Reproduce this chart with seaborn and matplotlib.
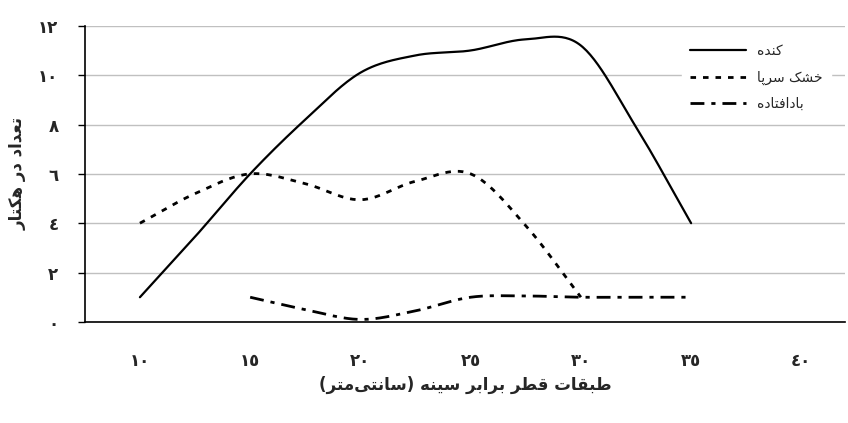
import matplotlib
matplotlib.use("Agg")
import matplotlib.pyplot as plt
import numpy as np
import pandas as pd
import seaborn as sns

# === DATA ===
konde_x = [10, 12.5, 15, 17.5, 20, 22.5, 25, 27.5, 30, 32.5, 35]
konde = [1, 3.45, 6.0, 8.2, 10.1, 10.8, 11.0, 11.45, 11.2, 7.9, 4]
khoshk_x = [10, 12.5, 15, 17.5, 20, 22.5, 25, 27.5, 30]
khoshk = [4, 5.2, 6, 5.6, 4.95, 5.7, 6.0, 3.9, 1]
badaftade_x = [15, 17.5, 20, 22.5, 25, 27.5, 30, 32.5, 35]
badaftade = [1, 0.5, 0.1, 0.45, 1.0, 1.05, 1, 1, 1]

x_tick_vals = [10, 15, 20, 25, 30, 35, 40]
y_tick_vals = [0, 2, 4, 6, 8, 10, 12]

# === Persian shaping (matplotlib has no Arabic shaping) ===
FORMS = {
    'ا': (0xFE8D, 0xFE8E, None, None), 'د': (0xFEA9, 0xFEAA, None, None),
    'ر': (0xFEAD, 0xFEAE, None, None),
    'ب': (0xFE8F, 0xFE90, 0xFE91, 0xFE92), 'ت': (0xFE95, 0xFE96, 0xFE97, 0xFE98),
    'خ': (0xFEA5, 0xFEA6, 0xFEA7, 0xFEA8), 'س': (0xFEB1, 0xFEB2, 0xFEB3, 0xFEB4),
    'ش': (0xFEB5, 0xFEB6, 0xFEB7, 0xFEB8), 'ط': (0xFEC1, 0xFEC2, 0xFEC3, 0xFEC4),
    'ع': (0xFEC9, 0xFECA, 0xFECB, 0xFECC), 'ف': (0xFED1, 0xFED2, 0xFED3, 0xFED4),
    'ق': (0xFED5, 0xFED6, 0xFED7, 0xFED8), 'م': (0xFEE1, 0xFEE2, 0xFEE3, 0xFEE4),
    'ن': (0xFEE5, 0xFEE6, 0xFEE7, 0xFEE8), 'ه': (0xFEE9, 0xFEEA, 0xFEEB, 0xFEEC),
    'پ': (0xFB56, 0xFB57, 0xFB58, 0xFB59), 'ک': (0xFB8E, 0xFB8F, 0xFB90, 0xFB91),
    'ی': (0xFBFC, 0xFBFD, 0xFBFE, 0xFBFF),
}
MIRROR = {'(': ')', ')': '('}


def fa(text):
    out = []
    n = len(text)
    for i, ch in enumerate(text):
        if ch not in FORMS:
            if ch != '\u200c':
                out.append(MIRROR.get(ch, ch))
            continue
        prev = text[i - 1] if i > 0 else ''
        nxt = text[i + 1] if i + 1 < n else ''
        join_prev = prev in FORMS and FORMS[prev][2] is not None
        join_next = nxt in FORMS and FORMS[ch][2] is not None
        iso, fin, ini, med = FORMS[ch]
        if join_prev and join_next:
            code = med
        elif join_prev:
            code = fin
        elif join_next:
            code = ini
        else:
            code = iso
        out.append(chr(code))
    return ''.join(reversed(out))


def ar_digits(v):
    return ''.join(chr(0x0660 + int(d)) for d in str(v))


def smooth(xs, ys, n=30):
    # Catmull-Rom spline through the points (like Excel smoothed lines)
    xs = np.asarray(xs, float); ys = np.asarray(ys, float)
    px = np.concatenate([[2 * xs[0] - xs[1]], xs, [2 * xs[-1] - xs[-2]]])
    py = np.concatenate([[2 * ys[0] - ys[1]], ys, [2 * ys[-1] - ys[-2]]])
    ox, oy = [], []
    t = np.linspace(0, 1, n)
    for i in range(1, len(px) - 2):
        for p, o in ((px, ox), (py, oy)):
            p0, p1, p2, p3 = p[i - 1], p[i], p[i + 1], p[i + 2]
            m1 = (p2 - p0) / 2
            m2 = (p3 - p1) / 2
            h = ((2 * t**3 - 3 * t**2 + 1) * p1 + (t**3 - 2 * t**2 + t) * m1
                 + (-2 * t**3 + 3 * t**2) * p2 + (t**3 - t**2) * m2)
            o.extend(h)
    return np.array(ox), np.array(oy)


sns.set_style("white")
plt.rcParams['font.family'] = ['DejaVu Sans']

fig = plt.figure(figsize=(8.48, 4.23), dpi=100)
ax = fig.add_axes([0.1, 0.239, 0.897, 0.70])

series = [
    (konde_x, konde, 'کنده', dict(linestyle='-', linewidth=1.6)),
    (khoshk_x, khoshk, 'خشک سرپا', dict(linestyle=(0, (2, 2.5)), linewidth=2)),
    (badaftade_x, badaftade, 'بادافتاده', dict(linestyle=(0, (5, 2.5, 1.5, 2.5)), linewidth=2)),
]
for xs, ys, name, style in series:
    sx, sy = smooth(xs, ys)
    df = pd.DataFrame({'x': sx, 'y': sy})
    sns.lineplot(data=df, x='x', y='y', ax=ax, color='black', sort=False,
                 label=fa(name), **style)

ax.set_xlim(7.5, 42.0)
ax.set_ylim(0, 12)
ax.set_yticks(y_tick_vals)
ax.set_yticklabels([ar_digits(v) for v in y_tick_vals], fontsize=12, fontweight='bold')
ax.set_xticks(x_tick_vals)
ax.set_xticklabels([ar_digits(v) for v in x_tick_vals], fontsize=12, fontweight='bold')
ax.set_xticks(np.arange(7.5, 42, 5), minor=True)
ax.tick_params(axis='x', which='major', length=0, pad=22)
ax.tick_params(axis='x', which='minor', length=5, width=1, color='black', direction='out')
ax.tick_params(axis='y', length=5, width=1, color='black', direction='out', left=True, pad=14)
ax.yaxis.grid(True, color='#c0c0c0', linewidth=1)
for s in ['top', 'right']:
    ax.spines[s].set_visible(False)
for s in ['left', 'bottom']:
    ax.spines[s].set_color('black')
    ax.spines[s].set_linewidth(1.2)

ax.set_xlabel(fa('طبقات قطر برابر سینه (سانتی‌متر)'), fontsize=12, fontweight='bold', labelpad=4)
ax.set_ylabel(fa('تعداد در هکتار'), fontsize=12, fontweight='bold', labelpad=8)

leg = ax.legend(loc='upper right', bbox_to_anchor=(0.99, 0.99), frameon=True,
                handlelength=4, fontsize=10, borderpad=0.6, labelspacing=0.9)
leg.get_frame().set_edgecolor('white')
leg.get_frame().set_facecolor('white')
leg.get_frame().set_alpha(1)

fig.savefig('out.png', dpi=100)
